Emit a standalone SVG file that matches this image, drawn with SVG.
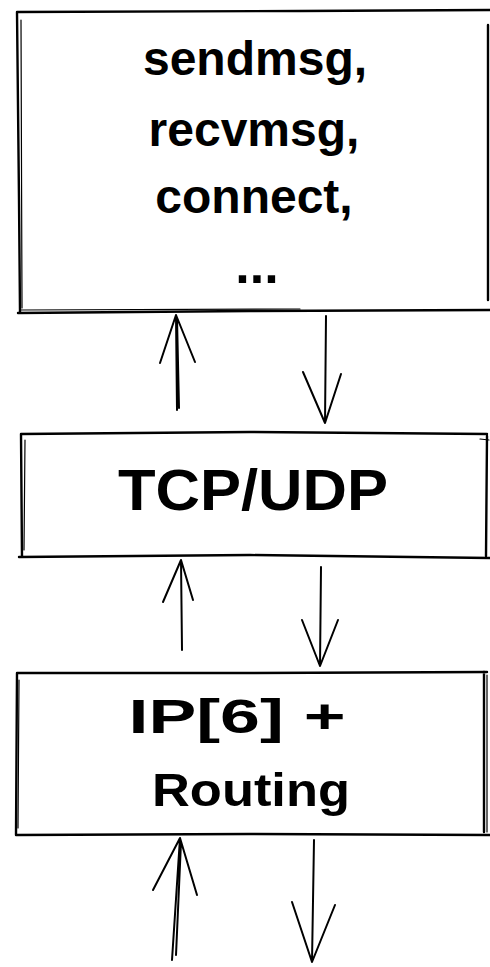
<svg xmlns="http://www.w3.org/2000/svg" width="490" height="967" viewBox="0 0 490 967">
<style>
.box{fill:none;stroke:#000;stroke-width:2.4;stroke-linecap:round;stroke-linejoin:round}
.thin{fill:none;stroke:#000;stroke-width:1.2;stroke-linecap:round}
.arr{fill:none;stroke:#000;stroke-width:2;stroke-linecap:round;stroke-linejoin:round}
.t{font-family:"Liberation Sans","DejaVu Sans",sans-serif;font-weight:bold;fill:#000;text-anchor:middle}
</style>
<rect width="490" height="967" fill="#fff"/>
<g id="node-syscalls">
<path class="box" d="M17,12 L300,11 L490,10 M17,12 L19,200 L20,312 M18,313 L250,311 L490,310 M488,25 L488,300"/>
<path class="thin" d="M21,20 L22,308 M20,310 L300,309"/>
<text class="t" x="255" y="75" font-size="48">sendmsg,</text>
<text class="t" x="254" y="146" font-size="48">recvmsg,</text>
<text class="t" x="254" y="213" font-size="48">connect,</text>
<text class="t" x="257" y="283" font-size="52">...</text>
</g>
<g id="node-tcpudp">
<path class="box" d="M21,434 L250,432 L487,434 M21,434 L22,557 M19,557 L250,555 L490,558 M487,436 L486,556"/>
<path class="thin" d="M25,440 L24,550 M480,439 L489,440"/>
<text class="t" x="253" y="510" font-size="58" textLength="270" lengthAdjust="spacingAndGlyphs">TCP/UDP</text>
</g>
<g id="node-ip">
<path class="box" d="M17,673 L250,673 L487,672 M17,673 L16,835 M16,835 L250,834 L490,835 M484,672 L484,832"/>
<path class="thin" d="M19,680 L18,828 M487,675 L487,832"/>
<text class="t" x="237" y="733" font-size="49" textLength="217" lengthAdjust="spacingAndGlyphs">IP[6] +</text>
<text class="t" x="251" y="806" font-size="47" textLength="198" lengthAdjust="spacingAndGlyphs">Routing</text>
</g>
<g id="connectors">
<path class="arr" d="M177,410 L176,315 M160,363 L176,315 L195,362 M179,408 L177,318"/>
<path class="arr" d="M326,316 L325,423 M303,372 L325,423 L341,374"/>
<path class="arr" d="M182,650 L181,560 M163,602 L181,560 L193,600"/>
<path class="arr" d="M321,567 L320,666 M302,620 L320,666 L338,620"/>
<path class="arr" d="M172,960 L180,838 M153,890 L180,838 L197,895 M176,955 L181,842"/>
<path class="arr" d="M314,840 L312,962 M292,902 L312,962 L335,905"/>
</g>
</svg>
